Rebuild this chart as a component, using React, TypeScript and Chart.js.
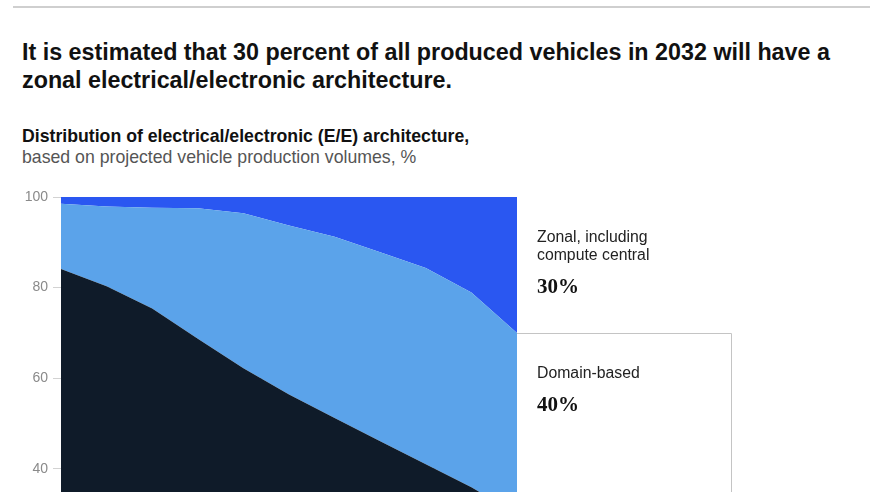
import React, { useEffect, useRef } from 'react';
import { Chart, registerables } from 'chart.js';

Chart.register(...registerables);

// ---- data ----
const years = ['2022', '2023', '2024', '2025', '2026', '2027', '2028', '2029', '2030', '2031', '2032'];
const distributed = [84.1, 80.3, 75.4, 68.7, 62.2, 56.4, 51.2, 46.1, 41.0, 35.9, 30.0];
const domainBased = [14.4, 17.6, 22.2, 28.8, 34.2, 37.3, 40.0, 41.7, 43.3, 43.0, 40.0];
const zonal = [1.5, 2.1, 2.4, 2.5, 3.6, 6.3, 8.8, 12.2, 15.7, 21.1, 30.0];
const seriesNames = ['Distributed', 'Domain-based', 'Zonal, including compute central'];
const labelLines = [['Distributed'], ['Domain-based'], ['Zonal, including', 'compute central']];
const endShares = ['30%', '40%', '30%'];
const yTickStep = 20;
const yMax = 100;

const titleLine1 = 'It is estimated that 30 percent of all produced vehicles in 2032 will have a';
const titleLine2 = 'zonal electrical/electronic architecture.';
const subtitleBold = 'Distribution of electrical/electronic (E/E) architecture,';
const subtitleRest = 'based on projected vehicle production volumes, %';

const colors = ['#0F1B29', '#5BA3EA', '#2A57F1'];

const endLabelPlugin = {
  id: 'endLabels',
  afterDraw(chart: any) {
    const ctx = chart.ctx;
    const ys = chart.scales.y;
    const area = chart.chartArea;
    const last = years.length - 1;
    const series = [distributed, domainBased, zonal];
    let cum = 0;
    ctx.save();
    series.forEach((s, i) => {
      const bottom = cum;
      const top = cum + s[last];
      cum = top;
      const yTop = ys.getPixelForValue(top);
      const yBot = ys.getPixelForValue(bottom);
      if (i === 1) {
        ctx.strokeStyle = '#c4c4c4';
        ctx.lineWidth = 1;
        ctx.beginPath();
        ctx.moveTo(area.right, Math.round(yTop) + 0.5);
        ctx.lineTo(731.5, Math.round(yTop) + 0.5);
        ctx.lineTo(731.5, yBot);
        ctx.stroke();
      }
      const x = area.right + 20;
      let y = yTop + 41;
      ctx.fillStyle = '#222';
      ctx.font = '15.8px "Liberation Sans", Arial, sans-serif';
      ctx.textBaseline = 'middle';
      ctx.textAlign = 'left';
      labelLines[i].forEach((line, k) => {
        ctx.fillText(line, x, y + k * 18);
      });
      y += (labelLines[i].length - 1) * 18 + 32;
      ctx.fillStyle = '#111';
      ctx.font = 'bold 21px "Liberation Serif", "DejaVu Serif", serif';
      ctx.fillText(endShares[i], x, y);
    });
    ctx.restore();
  },
};

export default function App() {
  const ref = useRef<HTMLCanvasElement>(null);
  useEffect(() => {
    if (!ref.current) return;
    const chart = new Chart(ref.current, {
      type: 'line',
      data: {
        labels: years,
        datasets: [
          { label: seriesNames[0], data: distributed, backgroundColor: colors[0], borderWidth: 0, pointRadius: 0, fill: 'origin' },
          { label: seriesNames[1], data: domainBased, backgroundColor: colors[1], borderWidth: 0, pointRadius: 0, fill: '-1' },
          { label: seriesNames[2], data: zonal, backgroundColor: colors[2], borderWidth: 0, pointRadius: 0, fill: '-1' },
        ],
      },
      options: {
        responsive: false,
        animation: false,
        layout: { padding: { top: 17, right: 353, left: 0, bottom: 0 } },
        plugins: { legend: { display: false }, tooltip: { enabled: false } },
        elements: { line: { tension: 0 } },
        scales: {
          x: {
            stacked: true,
            grid: { display: false },
            border: { display: false },
            ticks: { color: '#888', font: { size: 14, family: '"Liberation Sans", Arial, sans-serif' } },
            afterFit: (s: any) => { s.height = 70; },
          },
          y: {
            stacked: true,
            min: 0,
            max: yMax,
            z: 1,
            border: { display: false },
            grid: { color: 'rgba(125,125,125,0.35)', lineWidth: 1, tickLength: 8 },
            ticks: {
              stepSize: yTickStep,
              padding: 5,
              color: '#8a8a8a',
              font: { size: 14, family: '"Liberation Sans", Arial, sans-serif' },
            },
            afterFit: (s: any) => { s.width = 61; },
          },
        },
      },
      plugins: [endLabelPlugin],
    } as any);
    return () => chart.destroy();
  }, []);

  return (
    <div style={{ position: 'fixed', left: 0, top: 0, width: 870, height: 492, overflow: 'hidden', background: '#fff' }}>
      <div style={{ position: 'absolute', left: 13, right: 0, top: 6, height: 1.5, background: '#cfcfcf' }} />
      <div
        style={{
          position: 'absolute', left: 22, top: 38, whiteSpace: 'nowrap',
          fontFamily: '"Liberation Sans", Arial, sans-serif', fontWeight: 700,
          fontSize: 23.3, lineHeight: '28px', color: '#111',
        }}
      >
        <div>{titleLine1}</div>
        <div>{titleLine2}</div>
      </div>
      <div
        style={{
          position: 'absolute', left: 22, top: 126, whiteSpace: 'nowrap',
          fontFamily: '"Liberation Sans", Arial, sans-serif',
          fontSize: 17.7, lineHeight: '21px',
        }}
      >
        <div style={{ fontWeight: 700, color: '#111' }}>{subtitleBold}</div>
        <div style={{ color: '#555' }}>{subtitleRest}</div>
      </div>
      <canvas ref={ref} width={870} height={540} style={{ position: 'absolute', left: 0, top: 180, display: 'block' }} />
    </div>
  );
}
